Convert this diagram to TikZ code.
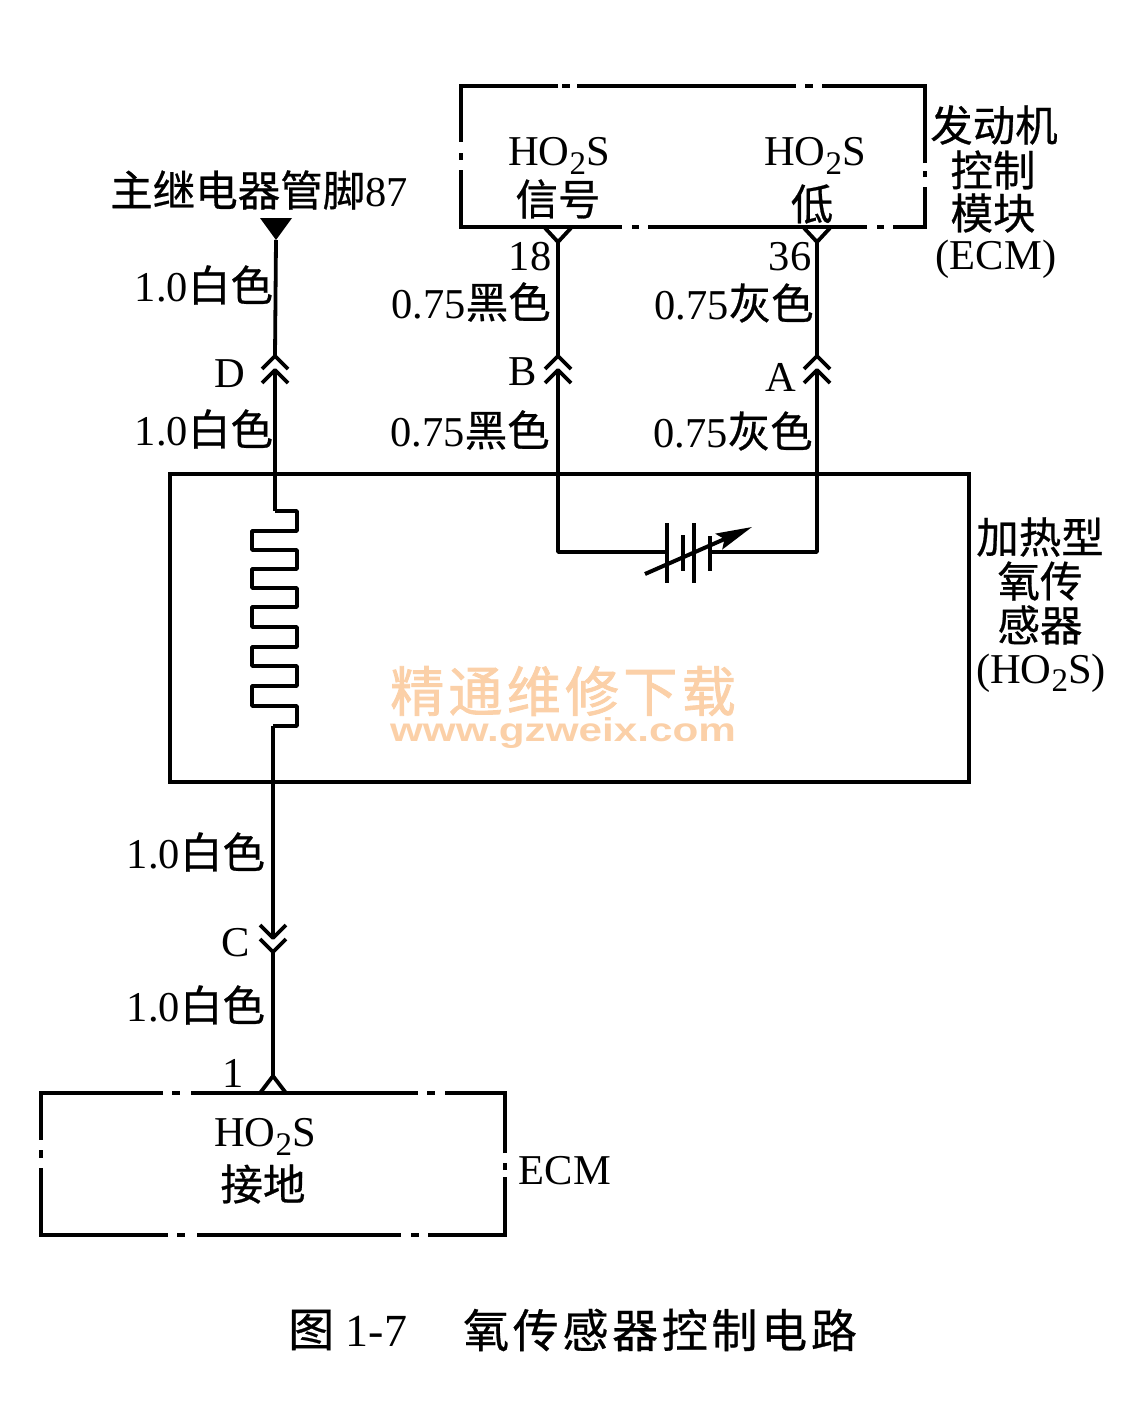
\documentclass[tikz,border=0pt]{standalone}
\usepackage{fontspec}
\setmainfont{Liberation Serif}
\setsansfont{Liberation Sans}
\newfontfamily\cjk[FakeBold=0.6]{Noto Sans CJK SC}
\newfontfamily\cjkmark[LetterSpace=8, FakeBold=1.5]{Noto Sans CJK SC}
\usetikzlibrary{arrows.meta}
\definecolor{markorange}{RGB}{251,208,168}
\newcommand{\cn}[1]{{\cjk #1}}
\newcommand{\hos}{HO\raisebox{-.2em}{\fontsize{33}{33}\selectfont 2}S}
\tikzset{
	lab/.style={inner sep=0pt, font=\fontsize{42.5}{44}\selectfont},
	wire/.style={black, line width=3.8pt, line join=round},
	boxline/.style={black, line width=3.6pt},
	plate/.style={black, line width=4pt}
}
\begin{document}
\begin{tikzpicture}[x=1pt, y=-1pt]
	\useasboundingbox (0, 0) rectangle (1129, 1410);

	% Pins and plugs
	\coordinate (pinEcm18) at (558, 242);
	\coordinate (pinEcm36) at (817, 242);
	\coordinate (pinRelay) at (276, 240);
	\coordinate (plugDup) at (275, 356);
	\coordinate (plugDlow) at (275, 370);
	\coordinate (plugBup) at (558, 356);
	\coordinate (plugBlow) at (558, 370);
	\coordinate (plugAup) at (817, 356);
	\coordinate (plugAlow) at (817, 370);
	\coordinate (plugCup) at (273, 938);
	\coordinate (plugClow) at (273, 952);
	\coordinate (pinGnd) at (273, 1076);
	\coordinate (heatIn) at (275, 511);
	\coordinate (heatOut) at (273, 726);
	\coordinate (cornerB) at (558, 552);
	\coordinate (cornerA) at (817, 552);
	\coordinate (plateL) at (667, 552);
	\coordinate (plateR) at (710, 552);

	% Upper ECM box
	\draw[boxline] (558, 86) -- (461, 86) -- (461, 142) (461, 153) -- (461, 160) (461, 170) -- (461, 227) -- (622, 227)
		(632, 227) -- (639, 227) (648, 227) -- (867, 227) (877, 227) -- (884, 227) (893, 227) -- (925, 227) -- (925, 187)
		(925, 177) -- (925, 171) (925, 163) -- (925, 86) -- (822, 86) (805, 86) -- (813, 86) (577, 86) -- (796, 86)
		(562, 86) -- (570, 86);

	% Sensor box
	\draw[boxline] (170, 474) rectangle (969, 782);

	% Lower ECM box
	\draw[boxline] (163, 1093) -- (41, 1093) -- (41, 1140) (41, 1150) -- (41, 1158) (41, 1168) -- (41, 1235) -- (168, 1235)
		(177, 1235) -- (185, 1235) (197, 1235) -- (401, 1235) (411, 1235) -- (419, 1235) (428, 1235) -- (505, 1235) -- (505, 1177)
		(505, 1170) -- (505, 1163) (505, 1153) -- (505, 1093) -- (445, 1093) (427, 1093) -- (435, 1093) (191, 1093) -- (418, 1093)
		(172, 1093) -- (180, 1093);

	% Wires
	\draw[wire] (pinRelay) -- (plugDup);
	\draw[wire] (pinEcm18) -- (plugBup);
	\draw[wire] (pinEcm36) -- (plugAup);
	\draw[wire] (plugDlow) -- (heatIn);
	\draw[wire] (plugBlow) -- (cornerB) -- (plateL);
	\draw[wire] (plugAlow) -- (cornerA) -- (plateR);
	\draw[wire] (heatOut) -- (plugCup);
	\draw[wire] (plugClow) -- (pinGnd);

	% Relay pin
	\fill[black] (260, 218) -- (292, 218) -- (pinRelay) -- cycle;

	% Y pins
	\draw[wire] (545, 228) -- (pinEcm18) -- (571, 228);
	\draw[wire] (804, 228) -- (pinEcm36) -- (830, 228);
	\draw[wire] (260, 1093) -- (pinGnd) -- (286, 1093);

	% Plugs
	\draw[wire] (262, 369) -- (plugDup) -- (288, 369);
	\draw[wire] (262, 383) -- (plugDlow) -- (288, 383);
	\draw[wire] (545, 369) -- (plugBup) -- (571, 369);
	\draw[wire] (545, 383) -- (plugBlow) -- (571, 383);
	\draw[wire] (804, 369) -- (plugAup) -- (830, 369);
	\draw[wire] (804, 383) -- (plugAlow) -- (830, 383);
	\draw[wire] (260, 925) -- (plugCup) -- (286, 925);
	\draw[wire] (260, 939) -- (plugClow) -- (286, 939);

	% Heater
	\draw[wire] (heatIn) -- (297, 511) -- (297, 531) -- (252, 531) -- (252, 550) -- (297, 550) -- (297, 569)
		-- (252, 569) -- (252, 588) -- (297, 588) -- (297, 607) -- (252, 607) -- (252, 627) -- (297, 627)
		-- (297, 647) -- (252, 647) -- (252, 666) -- (297, 666) -- (297, 686) -- (252, 686) -- (252, 706)
		-- (297, 706) -- (297, 726) -- (heatOut);

	% Variable resistance
	\draw[plate] (667, 523) -- (667, 583);
	\draw[plate] (683, 535) -- (683, 571);
	\draw[plate] (694, 523) -- (694, 583);
	\draw[plate] (710, 536) -- (710, 571);
	\draw[plate, -{Stealth[length=36pt, width=17pt, inset=6pt]}] (645, 574) -- (752, 527);

	% Watermark
	\node[lab, font=\fontsize{54}{56}\selectfont\cjkmark, text=markorange] (markCn) at (563, 691) {精通维修下载};
	\node[lab, font=\fontsize{33}{35}\selectfont\sffamily\bfseries, text=markorange] (markUrl) at (563, 733) {\scalebox{1.28}[1]{www.gzweix.com}};

	% Upper labels
	\node[lab] (relayLab) at (259, 190) {\cn{主继电器管脚}87};
	\node[lab] (sigLab) at (559, 156) {\hos};
	\node[lab] (sigCn) at (558, 199) {\cn{信号}};
	\node[lab] (lowLab) at (815, 156) {\hos};
	\node[lab] (lowCn) at (812, 204) {\cn{低}};
	\node[lab] (num18) at (530, 257) {18};
	\node[lab] (num36) at (790, 257) {36};
	\node[lab] (ecmA) at (994, 125) {\cn{发动机}};
	\node[lab] (ecmB) at (993, 170) {\cn{控制}};
	\node[lab] (ecmC) at (993, 213) {\cn{模块}};
	\node[lab] (ecmD) at (996, 259) {(ECM)};

	% Wire labels
	\node[lab] (whiteA) at (204, 285) {1.0\cn{白色}};
	\node[lab] (whiteB) at (204, 429) {1.0\cn{白色}};
	\node[lab] (blackA) at (471, 302) {0.75\cn{黑色}};
	\node[lab] (blackB) at (470, 430) {0.75\cn{黑色}};
	\node[lab] (grayA) at (734, 303) {0.75\cn{灰色}};
	\node[lab] (grayB) at (733, 431) {0.75\cn{灰色}};
	\node[lab] (letterD) at (230, 374) {D};
	\node[lab] (letterB) at (523, 372) {B};
	\node[lab] (letterA) at (781, 377) {A};
	\node[lab] (letterC) at (236, 943) {C};
	\node[lab] (whiteC) at (196, 852) {1.0\cn{白色}};
	\node[lab] (whiteD) at (196, 1005) {1.0\cn{白色}};

	% Sensor labels
	\node[lab] (sensA) at (1040, 537) {\cn{加热型}};
	\node[lab] (sensB) at (1040, 581) {\cn{氧传}};
	\node[lab] (sensC) at (1040, 625) {\cn{感器}};
	\node[lab] (sensD) at (1041, 673) {(\hos)};

	% Lower labels
	\node[lab] (num1) at (233, 1073) {1};
	\node[lab] (gndLab) at (265, 1137) {\hos};
	\node[lab] (gndCn) at (263, 1184) {\cn{接地}};
	\node[lab] (ecmLow) at (565, 1171) {ECM};

	% Caption
	\node[lab, anchor=west, font=\fontsize{46}{48}\selectfont] (capNum) at (288, 1330) {\cn{图} 1-7};
	\node[lab, anchor=west, font=\fontsize{46}{48}\selectfont] (capText) at (463, 1330) {\cn{\addfontfeature{LetterSpace=8}氧传感器控制电路}};
\end{tikzpicture}
\end{document}
